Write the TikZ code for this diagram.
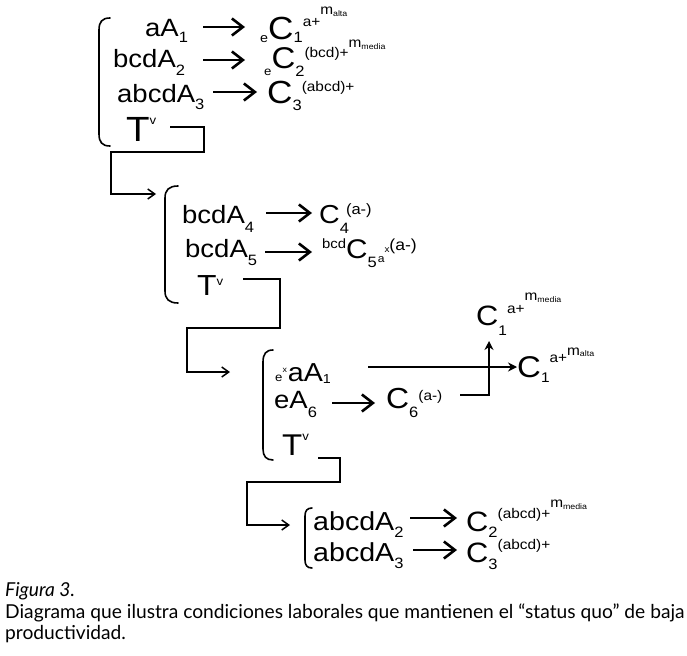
\documentclass[tikz,border=0pt]{standalone}
\usepackage{fontspec}
\setmainfont[FakeStretch=1.1]{Liberation Sans}
\newfontfamily\capfont{Lato}
\usetikzlibrary{arrows.meta}
% size, raise, text
\newcommand\fs[3]{\raisebox{#2pt}{\fontsize{#1}{#1}\selectfont #3}}
\begin{document}
\begin{tikzpicture}[x=1pt,y=-1pt,
  term/.style={inner sep=0pt,anchor=base west,font=\fontsize{25}{25}\selectfont},
  bigarrow/.style={line width=2.6pt,-{Straight Barb[length=11pt,width=17pt]}},
  thinarrow/.style={line width=2pt,-{Stealth[length=9pt,width=9pt]}},
  link/.style={line width=1.5pt,-{Straight Barb[length=7pt,width=10pt]}},
  brace/.style={line width=1.6pt,line cap=round},
  captext/.style={inner sep=0pt,anchor=base west,font=\capfont\fontsize{19.2}{19.2}\selectfont}]
\useasboundingbox (0,0) rectangle (687,655);
% ---------- block 1
\draw[brace] (110,18) .. controls (102,18) and (99,22) .. (99,30) -- (99,134) .. controls (99,142) and (102,146) .. (110,146);
\node[term] (t1a) at (145,37) {aA\fs{15}{-6}{1}};
\node[term] (t1b) at (113,68) {bcdA\fs{15}{-8}{2}};
\node[term] (t1c) at (117,103) {abcdA\fs{15}{-7}{3}};
\node[term] (t1d) at (126,142) {\fs{35}{0}{T}\fs{12}{17}{v}};
\node[term] (c1a) at (260,40) {\fs{13}{-3}{e}\fs{32}{0}{C}\fs{15}{-3}{1}\fs{14}{13}{a+}\fs{14}{25}{m}\fs{8}{23}{alta}};
\node[term] (c1b) at (264,69) {\fs{12}{-7}{e}\fs{30}{0}{C}\fs{15}{-8}{2}\fs{14}{11}{(bcd)+}\fs{14}{21}{m}\fs{8}{19}{media}};
\node[term] (c1c) at (267,104) {\fs{32}{0}{C}\fs{15}{-7}{3}\fs{14}{12}{(abcd)+}};
\coordinate (a1s) at (203,27); \coordinate (a1e) at (245,27);
\coordinate (a2s) at (203,60); \coordinate (a2e) at (245,60);
\coordinate (a3s) at (213,92); \coordinate (a3e) at (257,92);
\draw[bigarrow] (a1s) -- (a1e);
\draw[bigarrow] (a2s) -- (a2e);
\draw[bigarrow] (a3s) -- (a3e);
\coordinate (l1s) at (170,127); \coordinate (l1e) at (156,194);
\draw[link] (l1s) -- (204,127) -- (204,152) -- (111,152) -- (111,194) -- (l1e);
% ---------- block 2
\draw[brace] (178,186) .. controls (169,186) and (165,190) .. (165,198) -- (165,291) .. controls (165,299) and (169,303) .. (178,303);
\node[term] (t2a) at (182,223) {bcdA\fs{15}{-9}{4}};
\node[term] (t2b) at (185,257) {bcdA\fs{15}{-8}{5}};
\node[term] (t2c) at (197,295) {\fs{29}{0}{T}\fs{12}{10}{v}};
\node[term] (c2a) at (319,223) {\fs{26}{0}{C}\fs{15}{-10}{4}\hspace{-3pt}\fs{15}{9}{(a-)}};
\node[term] (c2b) at (322,258) {\fs{13.5}{10}{bcd}\fs{27}{0}{C}\fs{15}{-9}{5}\hspace{1pt}\fs{11}{-4}{a}\fs{9}{6}{x}\fs{16}{8}{(a-)}};
\coordinate (a4s) at (266,213); \coordinate (a4e) at (312,213);
\coordinate (a5s) at (265,252); \coordinate (a5e) at (312,252);
\draw[bigarrow] (a4s) -- (a4e);
\draw[bigarrow] (a5s) -- (a5e);
\coordinate (l2s) at (243,279); \coordinate (l2e) at (230,372);
\draw[link] (l2s) -- (280,279) -- (280,328) -- (187,328) -- (187,372) -- (l2e);
% ---------- block 3
\draw[brace] (273,350) .. controls (266,350) and (263,354) .. (263,362) -- (263,449) .. controls (263,456) and (266,460) .. (273,460);
\node[term] (t3a) at (275,381) {\fs{12}{0}{e}\fs{8}{9}{x}\hspace{1pt}\fs{26}{0}{aA}\fs{13}{-2}{1}};
\node[term] (t3b) at (274,408) {eA\fs{15}{-9}{6}};
\node[term] (t3c) at (282,455) {\fs{30}{0}{T}\fs{12}{15}{v}};
\node[term] (c3a) at (517,377) {\fs{30}{0}{C}\fs{14}{-5}{1}\fs{14}{15}{a+}\fs{14}{22}{m}\fs{8}{21}{alta}};
\node[term] (c3b) at (386,408) {\fs{29}{0}{C}\fs{15}{-9}{6}\fs{14}{8}{(a-)}};
\node[term] (c3c) at (476,325) {\fs{28}{0}{C}\fs{14}{-10}{1}\fs{14}{12}{a+}\fs{14}{25}{m}\fs{8}{23}{media}};
\coordinate (a6s) at (368,367); \coordinate (a6e) at (517,367);
\draw[thinarrow] (a6s) -- (a6e);
\coordinate (a7s) at (332,403); \coordinate (a7e) at (375,403);
\draw[bigarrow] (a7s) -- (a7e);
\coordinate (a8s) at (460,395); \coordinate (a8e) at (489,341);
\draw[thinarrow] (a8s) -- (489,395) -- (a8e);
\coordinate (l3s) at (318,458); \coordinate (l3e) at (290,525);
\draw[link] (l3s) -- (340,458) -- (340,482) -- (247,482) -- (247,525) -- (l3e);
% ---------- block 4
\draw[brace] (312,508) .. controls (307,508) and (305,511) .. (305,516) -- (305,560) .. controls (305,565) and (307,568) .. (312,568);
\node[term] (t4a) at (313,530) {\fs{26}{0}{abcdA}\fs{15}{-7}{2}};
\node[term] (t4b) at (313,561) {\fs{26}{0}{abcdA}\fs{15}{-7}{3}};
\node[term] (c4a) at (466,531) {\fs{28}{0}{C}\fs{15}{-6}{2}\fs{14}{13}{(abcd)+}\fs{14}{24}{m}\fs{8}{22}{media}};
\node[term] (c4b) at (466,562) {\fs{28}{0}{C}\fs{15}{-7}{3}\fs{14}{13}{(abcd)+}};
\coordinate (a9s) at (410,518); \coordinate (a9e) at (457,518);
\coordinate (a10s) at (413,550); \coordinate (a10e) at (457,550);
\draw[bigarrow] (a9s) -- (a9e);
\draw[bigarrow] (a10s) -- (a10e);
% ---------- caption
\node[captext] (cap1) at (5,596) {\itshape Figura 3.};
\node[captext] (cap2) at (5,618) {Diagrama que ilustra condiciones laborales que mantienen el “status quo” de baja};
\node[captext] (cap3) at (5,639) {productividad.};
\end{tikzpicture}
\end{document}
